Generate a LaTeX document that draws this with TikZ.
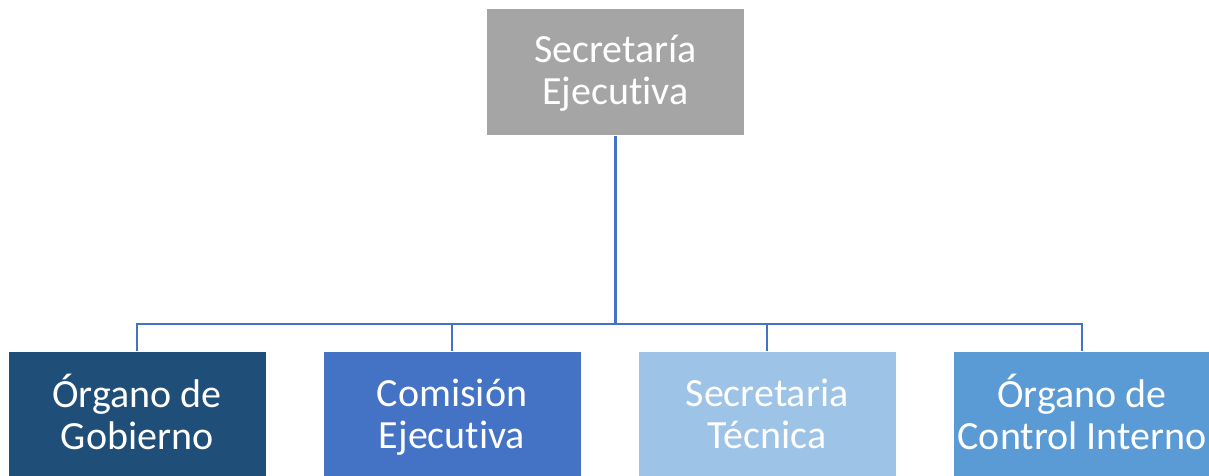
\documentclass[tikz,border=0pt]{standalone}
\usepackage{fontspec}
\setmainfont[Ligatures={NoCommon}]{Carlito}
\newcommand{\twolines}[2]{\rule{0pt}{31pt}#1\\#2\rule[-7pt]{0pt}{7pt}}
\begin{document}
\begin{tikzpicture}[x=1pt,y=-1pt,
  orgbox/.style={draw=white, line width=1pt, minimum width=258pt, minimum height=127pt,
    inner sep=0pt, align=center, text=white, font=\fontsize{40}{42}\selectfont},
  link/.style={draw=lineblue, line width=2.2pt}]
\definecolor{boxgray}{HTML}{A5A5A5}
\definecolor{boxnavy}{HTML}{1F4E79}
\definecolor{boxblue}{HTML}{4472C4}
\definecolor{boxlight}{HTML}{9DC3E6}
\definecolor{boxmid}{HTML}{5B9BD5}
\definecolor{lineblue}{HTML}{4472C4}
\useasboundingbox (0,0) rectangle (1209,476);
\begin{scope}
\clip (0,0) rectangle (1209,476);
\node[orgbox, fill=boxgray] (top) at (615.5,72) {\twolines{Secretaría}{Ejecutiva}};
\node[orgbox, fill=boxnavy] (c1) at (137,415) {\twolines{Órgano de}{Gobierno}};
\node[orgbox, fill=boxblue] (c2) at (452,415) {\twolines{Comisión}{Ejecutiva}};
\node[orgbox, fill=boxlight] (c3) at (767,415) {\twolines{Secretaria}{Técnica}};
\node[orgbox, fill=boxmid] (c4) at (1082,415) {\twolines{Órgano de}{Control Interno}};
\coordinate (bus) at (615.5,324);
\draw[link] (top.south) -- (bus);
\foreach \c in {c1,c2,c3,c4}{
  \draw[link] (bus) -| (\c.north);
}
\end{scope}
\end{tikzpicture}
\end{document}
